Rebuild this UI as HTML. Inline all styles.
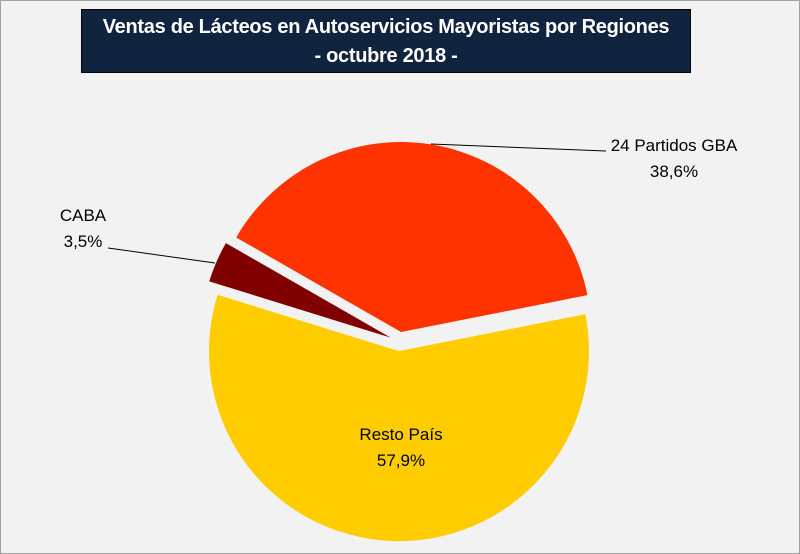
<!DOCTYPE html>
<html><head><meta charset="utf-8"><style>
body{margin:0;background:#fff}
#c{position:relative;width:800px;height:554px;background:#f2f2f2;box-sizing:border-box;border:1px solid #a0a0a0;overflow:hidden;font-family:"Liberation Sans",sans-serif}
#title{position:absolute;left:80px;top:8px;width:610px;height:64px;background:#10243f;border:1px solid #000;color:#fff;font-weight:bold;font-size:20px;text-align:center;line-height:29px;padding-top:3px;box-sizing:border-box;letter-spacing:-0.3px}
.lbl{position:absolute;font-size:17px;color:#000;text-align:center;line-height:26px}
</style></head><body>
<div id="c">
<div id="title">Ventas de Lácteos en Autoservicios Mayoristas por Regiones<br>- octubre 2018 -</div>
<svg id="pie" width="800" height="554" style="position:absolute;left:0;top:0"></svg>
<div class="lbl" style="left:583px;top:132px;width:180px">24 Partidos GBA<br>38,6%</div>
<div class="lbl" style="left:49px;top:202px;width:66px">CABA<br>3,5%</div>
<div class="lbl" style="left:310px;top:421px;width:180px">Resto País<br>57,9%</div>
</div>
<script>
const categories=["24 Partidos GBA","CABA","Resto País"];
const values=[38.6,3.5,57.9];
const colors=["#ff3300","#800000","#ffcc00"];
const cx=398.5,cy=340.5,R=190,explode=9.6,startDeg=11.2;
const svg=document.getElementById('pie');
const NS="http://www.w3.org/2000/svg";
const total=values.reduce((a,b)=>a+b,0);
let a=startDeg;
values.forEach((v,i)=>{
  const span=v/total*360;
  const a0=a,a1=a+span,mid=(a0+a1)/2;a=a1;
  const r=d=>d*Math.PI/180;
  const ox=cx+explode*Math.cos(r(mid)),oy=cy-explode*Math.sin(r(mid));
  const x0=ox+R*Math.cos(r(a0)),y0=oy-R*Math.sin(r(a0));
  const x1=ox+R*Math.cos(r(a1)),y1=oy-R*Math.sin(r(a1));
  const p=document.createElementNS(NS,'path');
  p.setAttribute('d',`M${ox},${oy}L${x0},${y0}A${R},${R} 0 ${span>180?1:0} 0 ${x1},${y1}Z`);
  p.setAttribute('fill',colors[i]);
  
  
  svg.appendChild(p);
});
function leader(pts,name){
  const l=document.createElementNS(NS,'polyline');
  l.setAttribute('points',pts);
  l.setAttribute('fill','none');l.setAttribute('stroke','#000');l.setAttribute('stroke-width','1');
  
  
  svg.appendChild(l);
}
leader("430,143 605,150","leader-line-gba");
leader("107,247 214,262","leader-line-caba");
</script>
</body></html>
